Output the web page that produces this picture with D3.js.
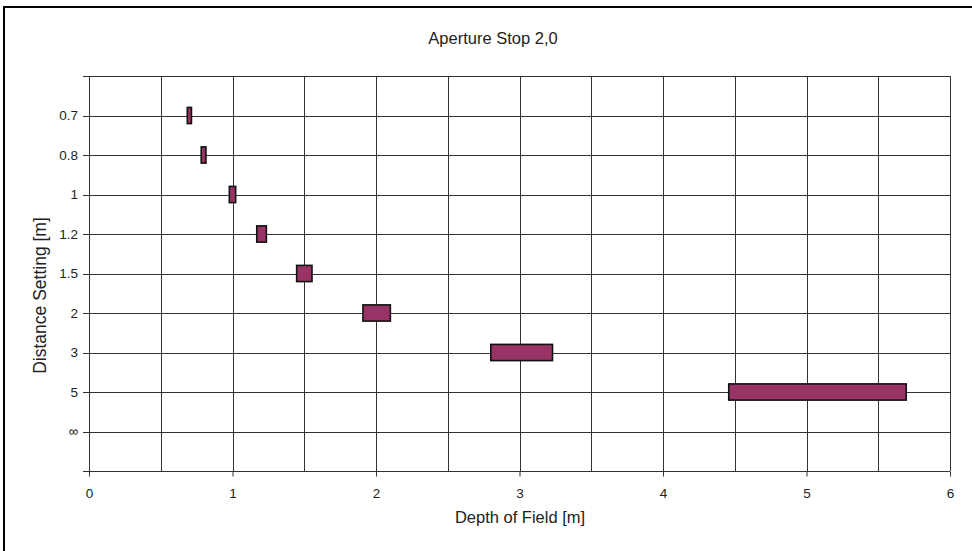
<!DOCTYPE html>
<html><head><meta charset="utf-8">
<script src="https://cdn.jsdelivr.net/npm/d3@7"></script>
<style>body{margin:0;background:#fff}svg{display:block}text{font-family:"Liberation Sans",Arial,sans-serif;fill:#222}</style>
</head><body>
<script>
const categories = ["0.7","0.8","1","1.2","1.5","2","3","5","∞"];
const nearLimit = [0.685, 0.782, 0.978, 1.169, 1.447, 1.909, 2.80, 4.458, null];
const farLimit  = [0.714, 0.815, 1.022, 1.236, 1.554, 2.10, 3.23, 5.695, null];
const xTicks = [0,1,2,3,4,5,6];
const xGrid = [0,0.5,1,1.5,2,2.5,3,3.5,4,4.5,5,5.5,6];
const title = "Aperture Stop 2,0";
const xTitle = "Depth of Field [m]";
const yTitle = "Distance Setting [m]";

const W = 972, H = 551;
const L = 89, R = 950, T = 76, B = 471;
const svg = d3.select("body").append("svg").attr("width", W).attr("height", H);

svg.append("rect").attr("x",4).attr("y",7).attr("width",W+10).attr("height",H+10)
  .attr("fill","#fff").attr("stroke","#000").attr("stroke-width",2);

const x = d3.scaleLinear().domain([0,6]).range([L,R]);
const y = d3.scalePoint().domain(categories).range([T,B]).padding(1);
const step = y.step();

const hLines = [T].concat(categories.map(c=>y(c))).concat([B]);
svg.append("g").selectAll("line").data(hLines).join("line")
  .attr("x1",L-6).attr("x2",R).attr("y1",d=>Math.round(d)+0.5).attr("y2",d=>Math.round(d)+0.5)
  .attr("stroke","#333").attr("stroke-width",1);
svg.append("g").selectAll("line").data(xGrid).join("line")
  .attr("x1",d=>Math.round(x(d))+0.5).attr("x2",d=>Math.round(x(d))+0.5)
  .attr("y1",T).attr("y2",B)
  .attr("stroke","#333").attr("stroke-width",1);

const xAxis = d3.axisBottom(x).tickValues(xTicks).tickSize(5).tickPadding(12).tickFormat(d3.format("d"));
const gx = svg.append("g").attr("transform",`translate(0,${Math.round(B)+0.5})`).call(xAxis);
gx.select(".domain").remove();
gx.selectAll(".tick line").attr("stroke","#333");
gx.selectAll("text").attr("font-size",13.5).style("font-family","Liberation Sans, Arial, sans-serif").attr("fill","#222");

const gy = svg.append("g").attr("transform",`translate(${L},0)`).call(d3.axisLeft(y).tickSize(0).tickPadding(11));
gy.select(".domain").remove();
gy.selectAll("text").attr("font-size",13.5).style("font-family","Liberation Sans, Arial, sans-serif").attr("fill","#222");

const data = categories.map((c,i)=>({c, a:nearLimit[i], b:farLimit[i]})).filter(d=>d.a!=null);
const bh = step*0.41;
svg.append("g").selectAll("rect").data(data).join("rect")
  .attr("x",d=>x(d.a)).attr("width",d=>x(d.b)-x(d.a))
  .attr("y",d=>y(d.c)-bh/2).attr("height",bh)
  .attr("fill","#993366").attr("stroke","#111").attr("stroke-width",1.6);

svg.append("text").attr("x",493).attr("y",43.5).attr("text-anchor","middle").attr("font-size",16.5).text(title);
svg.append("text").attr("x",520).attr("y",523).attr("text-anchor","middle").attr("font-size",16.5).text(xTitle);
svg.append("text").attr("transform",`translate(46,${(T+B)/2+22}) rotate(-90)`).attr("text-anchor","middle").attr("font-size",17.5).text(yTitle);
</script>
</body></html>
